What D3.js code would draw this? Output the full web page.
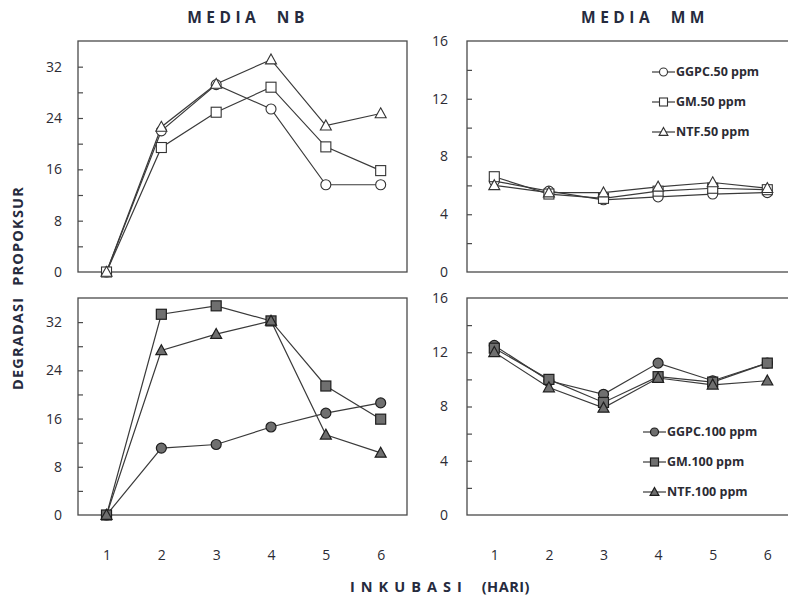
<!DOCTYPE html>
<html>
<head>
<meta charset="utf-8">
<script src="https://cdn.jsdelivr.net/npm/d3@7"></script>
<style>
  body { margin: 0; background: #fff; }
  text { font-family: "Open Sans", "Liberation Sans", sans-serif; }
</style>
</head>
<body>
<div id="chart"></div>
<script>
const days = [1, 2, 3, 4, 5, 6];

// MEDIA NB, 50 ppm
const nb50Ggpc = [0, 22.0, 29.2, 25.4, 13.6, 13.6];
const nb50Gm   = [0, 19.4, 24.9, 28.8, 19.5, 15.8];
const nb50Ntf  = [0, 22.6, 29.3, 33.1, 22.8, 24.7];
// MEDIA MM, 50 ppm
const mm50Ggpc = [6.3, 5.6, 5.0, 5.2, 5.4, 5.5];
const mm50Gm   = [6.6, 5.4, 5.1, 5.6, 5.8, 5.7];
const mm50Ntf  = [6.0, 5.5, 5.5, 5.9, 6.2, 5.8];
// MEDIA NB, 100 ppm
const nb100Ggpc = [0, 11.1, 11.7, 14.6, 16.9, 18.6];
const nb100Gm   = [0, 33.3, 34.7, 32.2, 21.4, 15.9];
const nb100Ntf  = [0, 27.3, 30.0, 32.2, 13.3, 10.3];
// MEDIA MM, 100 ppm
const mm100Ggpc = [12.5, 9.9, 8.9, 11.2, 9.9, 11.2];
const mm100Gm   = [12.3, 10.0, 8.3, 10.2, 9.8, 11.2];
const mm100Ntf  = [12.0, 9.4, 7.9, 10.1, 9.6, 9.9];

const nbTicks = [0, 8, 16, 24, 32];
const nbMinor = [4, 8, 12, 16, 20, 24, 28, 32];
const mmTicks = [0, 4, 8, 12, 16];
const mmMinor = [2, 4, 6, 8, 10, 12, 14];

const legend50 = ["GGPC.50 ppm", "GM.50 ppm", "NTF.50 ppm"];
const legend100 = ["GGPC.100 ppm", "GM.100 ppm", "NTF.100 ppm"];
const shapes = ["circle", "square", "triangle"];

const svg = d3.select("#chart").append("svg")
    .attr("width", 788)
    .attr("height", 602);

const panels = [
    {x0: 78, x1: 407, dom: [0.48, 6.48], top: 41, bottom: 272, ymax: 36, ticks: nbTicks, minor: nbMinor,
     series: [nb50Ggpc, nb50Gm, nb50Ntf], filled: false, xlabels: false, pad: 16},
    {x0: 467, x1: 794.6, dom: [0.5, 6.5], top: 41, bottom: 272, ymax: 16, ticks: mmTicks, minor: mmMinor,
     series: [mm50Ggpc, mm50Gm, mm50Ntf], filled: false, xlabels: false, pad: 19,
     legend: legend50, lx: 652, ly: 72},
    {x0: 78, x1: 407, dom: [0.48, 6.48], top: 298, bottom: 515, ymax: 36, ticks: nbTicks, minor: nbMinor,
     series: [nb100Ggpc, nb100Gm, nb100Ntf], filled: true, xlabels: true, pad: 16},
    {x0: 467, x1: 794.6, dom: [0.5, 6.5], top: 298, bottom: 515, ymax: 16, ticks: mmTicks, minor: mmMinor,
     series: [mm100Ggpc, mm100Gm, mm100Ntf], filled: true, xlabels: true, pad: 19,
     legend: legend100, lx: 643, ly: 432}
];

function drawMarker(g, shape, cx, cy, size, filled) {
    let m;
    if (shape === "circle") {
        m = g.append("circle").attr("cx", cx).attr("cy", cy).attr("r", size * 0.5);
    } else if (shape === "square") {
        m = g.append("rect").attr("x", cx - size / 2).attr("y", cy - size / 2)
            .attr("width", size).attr("height", size);
    } else {
        const h = size * 0.95;
        m = g.append("path").attr("d", `M${cx},${cy - h * 0.6}L${cx + size * 0.55},${cy + h * 0.45}L${cx - size * 0.55},${cy + h * 0.45}Z`);
    }
    m.attr("fill", filled ? "#6f6f6f" : "#fff")
     .attr("stroke", filled ? "#1e1e1e" : "#333")
     .attr("stroke-width", filled ? 1.2 : 1.1);
}

panels.forEach(p => {
    const x = d3.scaleLinear().domain(p.dom).range([p.x0, p.x1]);
    const y = d3.scaleLinear().domain([0, p.ymax]).range([p.bottom, p.top]);
    const g = svg.append("g");

    // frame
    g.append("rect")
        .attr("x", p.x0).attr("y", p.top)
        .attr("width", p.x1 - p.x0).attr("height", p.bottom - p.top)
        .attr("fill", "none").attr("stroke", "#4a4a4a").attr("stroke-width", 1.3);

    // inner minor ticks
    g.append("g")
        .attr("transform", `translate(${p.x0},0)`)
        .call(d3.axisLeft(y).tickValues(p.minor).tickSize(-5).tickFormat(""))
        .call(a => a.select(".domain").remove())
        .selectAll("line").attr("stroke", "#4a4a4a").attr("stroke-width", 1.2);

    // y labels
    g.append("g")
        .attr("transform", `translate(${p.x0},0)`)
        .call(d3.axisLeft(y).tickValues(p.ticks).tickSize(0).tickPadding(p.pad))
        .call(a => a.select(".domain").remove())
        .selectAll("text")
        .attr("font-size", 14).attr("font-family", "Open Sans, sans-serif").attr("fill", "#2b2b33");

    if (p.xlabels) {
        g.append("g")
            .attr("transform", `translate(0,${p.bottom})`)
            .call(d3.axisBottom(x).tickValues(days).tickSize(0).tickPadding(35).tickFormat(d3.format("d")))
            .call(a => a.select(".domain").remove())
            .selectAll("text")
            .attr("font-size", 14).attr("font-family", "Open Sans, sans-serif").attr("fill", "#2b2b33");
    }

    const line = d3.line().x((d, i) => x(days[i])).y(d => y(d));

    p.series.forEach(s => {
        g.append("path")
            .datum(s)
            .attr("d", line)
            .attr("fill", "none")
            .attr("stroke", "#3a3a3a")
            .attr("stroke-width", 1.2);
    });
    p.series.forEach((s, k) => {
        s.forEach((v, i) => drawMarker(g, shapes[k], x(days[i]), y(v), 10, p.filled));
    });

    if (p.legend) {
        p.legend.forEach((name, k) => {
            const ly = p.ly + k * 30;
            g.append("line")
                .attr("x1", p.lx).attr("x2", p.lx + 23)
                .attr("y1", ly).attr("y2", ly)
                .attr("stroke", "#3a3a3a").attr("stroke-width", 1.2);
            drawMarker(g, shapes[k], p.lx + 11.5, ly, 8, p.filled);
            g.append("text")
                .attr("x", p.lx + 24).attr("y", ly)
                .attr("dy", "0.35em")
                .attr("font-size", 12.5)
                .attr("font-weight", "bold")
                .attr("fill", "#2b2b33")
                .text(name);
        });
    }
});

// panel titles
[["MEDIA NB", 248], ["MEDIA MM", 645]].forEach(([t, cx]) => {
    svg.append("text")
        .attr("x", cx).attr("y", 18).attr("dy", "0.35em")
        .attr("text-anchor", "middle")
        .attr("font-size", 15.5).attr("font-weight", "bold")
        .attr("letter-spacing", "4.5px").attr("word-spacing", "8px")
        .attr("fill", "#262b3e")
        .text(t);
});

// axis titles
const xt = svg.append("text")
    .attr("x", 440).attr("y", 587).attr("dy", "0.35em")
    .attr("text-anchor", "middle")
    .attr("font-size", 14.5).attr("font-weight", "bold")
    .attr("fill", "#262b3e");
xt.append("tspan").attr("letter-spacing", "6px").text("INKUBASI");
xt.append("tspan").attr("dx", 14).attr("letter-spacing", "0.5px").text("(HARI)");

svg.append("text")
    .attr("transform", "translate(18,288) rotate(-90)")
    .attr("dy", "0.35em")
    .attr("text-anchor", "middle")
    .attr("font-size", 14.5).attr("font-weight", "bold")
    .attr("letter-spacing", "1.2px").attr("word-spacing", "6px")
    .attr("fill", "#262b3e")
    .text("DEGRADASI PROPOKSUR");
</script>
</body>
</html>
